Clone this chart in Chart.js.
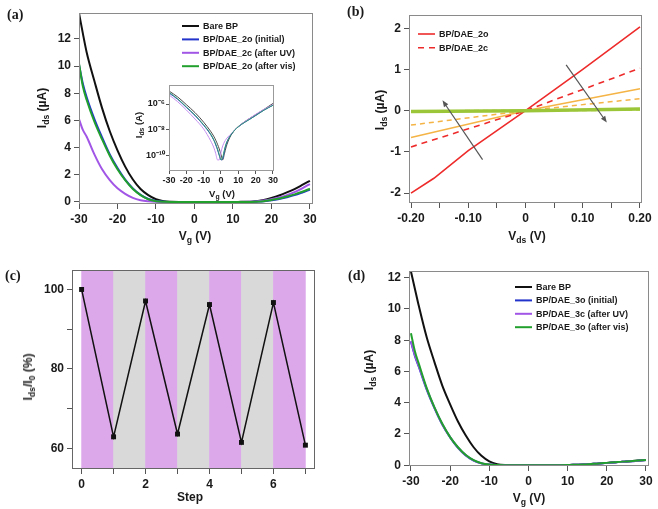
<!DOCTYPE html>
<html>
<head>
<meta charset="utf-8">
<title>BP/DAE transistor figure</title>
<script src="https://cdn.jsdelivr.net/npm/chart.js@4.4.1/dist/chart.umd.min.js"></script>
<style>
  body { margin: 0; background: #fff; }
  #fig { position: relative; width: 658px; height: 509px; overflow: hidden; background: #fff;
         font-family: "Liberation Sans", Arial, sans-serif; color: #1a1a1a; }
  #fig canvas { position: absolute; }
  .t { position: absolute; font-weight: bold; font-size: 12px; white-space: nowrap; transform: translate(-50%, -50%); }
  .t.v { transform: translate(-50%, -50%) rotate(-90deg); }
  .t.s { font-size: 9.5px; }
  .t sub { font-size: 0.72em; vertical-align: -0.3em; line-height: 0; }
  .pl { position: absolute; font-family: "Liberation Serif", "Times New Roman", serif; font-weight: bold; font-size: 14px; }
</style>
</head>
<body>
<div id="fig">
  <canvas id="cA" width="330" height="248" style="left:0px;top:0px"></canvas>
  <canvas id="cIn" width="158" height="120" style="left:125px;top:72px"></canvas>
  <canvas id="cB" width="328" height="248" style="left:330px;top:0px"></canvas>
  <canvas id="cC" width="330" height="259" style="left:0px;top:250px"></canvas>
  <canvas id="cD" width="328" height="259" style="left:330px;top:250px"></canvas>

  <div class="pl" style="left:7px;top:7px">(a)</div>
  <div class="pl" style="left:347px;top:4px">(b)</div>
  <div class="pl" style="left:5px;top:268px">(c)</div>
  <div class="pl" style="left:348px;top:268px">(d)</div>

  <div class="t v" style="left:42px;top:108px">I<sub>ds</sub> (µA)</div>
  <div class="t" style="left:195px;top:236px">V<sub>g</sub> (V)</div>
  <div class="t v s" style="left:138px;top:125px">I<sub>ds</sub> (A)</div>
  <div class="t s" style="left:222px;top:193px">V<sub>g</sub> (V)</div>
  <div class="t v" style="left:380px;top:110px">I<sub>ds</sub> (µA)</div>
  <div class="t" style="left:527px;top:236px">V<sub>ds</sub> (V)</div>
  <div class="t v" style="left:28px;top:377px">I<sub>ds</sub>/I<sub>0</sub> (%)</div>
  <div class="t" style="left:190px;top:497px">Step</div>
  <div class="t v" style="left:369px;top:370px">I<sub>ds</sub> (µA)</div>
  <div class="t" style="left:529px;top:498px">V<sub>g</sub> (V)</div>
</div>

<script>
// (a) transfer curves, Vg (V) vs Ids (µA)
const vgA = [-30, -29, -28, -26, -24, -22, -20, -18, -16, -14, -12, -10, -8, -6, -4, -2, 0, 2, 4, 6, 8, 10, 12, 14, 16, 18, 20, 22, 24, 26, 28, 30];
const bareA = [13.9, 12.4, 11.0, 8.9, 6.9, 5.2, 3.8, 2.6, 1.65, 0.95, 0.5, 0.2, 0.05, 0.01, 0, 0, 0, 0, 0, 0, 0, 0, 0.01, 0.02, 0.05, 0.15, 0.3, 0.48, 0.7, 0.95, 1.25, 1.56];
const blueA = [10.1, 8.7, 7.7, 6.1, 4.75, 3.5, 2.5, 1.65, 1.0, 0.52, 0.22, 0.07, 0.02, 0, 0, 0, 0, 0, 0, 0, 0, 0, 0, 0, 0.02, 0.05, 0.13, 0.22, 0.35, 0.5, 0.7, 0.92];
const purpleA = [6.1, 5.3, 4.8, 3.5, 2.4, 1.6, 1.0, 0.6, 0.3, 0.13, 0.05, 0.01, 0, 0, 0, 0, 0, 0, 0, 0, 0, 0, 0, 0.01, 0.03, 0.1, 0.2, 0.33, 0.5, 0.72, 1.0, 1.32];
const greenA = [10.2, 8.5, 7.5, 5.9, 4.6, 3.4, 2.4, 1.6, 0.95, 0.5, 0.2, 0.06, 0.01, 0, 0, 0, 0, 0, 0, 0, 0, 0, 0, 0, 0.02, 0.06, 0.15, 0.25, 0.4, 0.56, 0.75, 0.97];
const labelsA = ['Bare BP', 'BP/DAE_2o (initial)', 'BP/DAE_2c (after UV)', 'BP/DAE_2o (after vis)'];

// (a) inset, log Ids (A)
const vgIn = [-30, -25, -20, -15, -10, -6, -4, -3, -2, -1, 0, 1, 2, 3, 5, 8, 12, 16, 20, 25, 30];
const bareIn = [1e-5, 3.5e-6, 9e-7, 2.2e-7, 4e-8, 8e-9, 3e-9, 1.6e-9, 8e-10, 3.5e-10, 1.3e-10, 5e-11, 1.5e-10, 5e-10, 2.5e-9, 1e-8, 3e-8, 7e-8, 1.5e-7, 4e-7, 1.1e-6];
const blueIn = [7e-6, 2.3e-6, 5.5e-7, 1.3e-7, 2.3e-8, 4.5e-9, 1.5e-9, 7e-10, 3e-10, 1.1e-10, 5e-11, 6e-11, 2.5e-10, 8e-10, 3e-9, 1e-8, 2.8e-8, 6e-8, 1.3e-7, 3.5e-7, 8e-7];
const purpleIn = [5e-6, 1.5e-6, 3.5e-7, 7e-8, 1.2e-8, 1.5e-9, 4e-10, 1.5e-10, 5e-11, 5e-11, 2e-10, 6e-10, 1.2e-9, 2e-9, 4e-9, 1e-8, 3e-8, 7e-8, 1.6e-7, 4e-7, 9e-7];
const greenIn = [8e-6, 2.5e-6, 6e-7, 1.4e-7, 2.5e-8, 5e-9, 1.6e-9, 8e-10, 3.5e-10, 1.3e-10, 5e-11, 8e-11, 3e-10, 9e-10, 3e-9, 1e-8, 2.8e-8, 6e-8, 1.3e-7, 3.5e-7, 8e-7];
const inTicks = [1e-10, 1e-8, 1e-6];
const inTickLabels = ['10\u207B\u00B9\u2070', '10\u207B\u2078', '10\u207B\u2076'];

// (b) output curves, Vds (V) vs Ids (µA)
const vdsB = [-0.2, -0.16, -0.1, 0, 0.1, 0.2];
const red2oB = [-2.0, -1.64, -0.97, 0, 1.0, 2.03];
const vdsEnds = [-0.2, 0, 0.2];
const red2cB = [-0.88, 0, 1.03];
const orangeSolidB = [-0.65, 0, 0.53];
const orangeDashB = [-0.35, 0, 0.29];
const greenSolidB = [-0.02, 0, 0.04];
const greenDashB = [-0.01, 0, 0.02];
const arrowsB = [
  { from: [-0.075, -1.19], to: [-0.145, 0.25] },
  { from: [0.071, 1.11], to: [0.142, -0.29] }
];

// (c) switching cycles
const stepC = [0, 1, 2, 3, 4, 5, 6, 7];
const ratioC = [100, 62.9, 97.1, 63.6, 96.2, 61.5, 96.7, 60.8];
const bandMidC = [0.5, 1.5, 2.5, 3.5, 4.5, 5.5, 6.5];
const bandLightC = ['UV', 'vis', 'UV', 'vis', 'UV', 'vis', 'UV'];
const C_MIN = 54.8, C_MAX = 104.9;

// (d) transfer curves, DAE_3
const vgD = vgA;
const bareD = [12.4, 11.3, 10.2, 8.2, 6.6, 5.1, 3.9, 2.8, 1.9, 1.15, 0.6, 0.25, 0.07, 0.01, 0, 0, 0, 0, 0, 0, 0, 0.01, 0.03, 0.05, 0.08, 0.11, 0.15, 0.19, 0.23, 0.26, 0.3, 0.34];
const blueD = [7.9, 7.0, 6.3, 4.85, 3.65, 2.6, 1.78, 1.12, 0.63, 0.3, 0.12, 0.04, 0.01, 0, 0, 0, 0, 0, 0, 0, 0, 0.01, 0.03, 0.05, 0.08, 0.11, 0.15, 0.18, 0.22, 0.25, 0.29, 0.33];
const purpleD = [7.95, 7.05, 6.35, 4.9, 3.68, 2.62, 1.79, 1.13, 0.64, 0.31, 0.12, 0.04, 0.01, 0, 0, 0, 0, 0, 0, 0, 0, 0.01, 0.03, 0.05, 0.08, 0.11, 0.15, 0.18, 0.22, 0.25, 0.29, 0.33];
const greenD = [8.45, 7.3, 6.5, 4.95, 3.7, 2.65, 1.8, 1.15, 0.65, 0.32, 0.13, 0.04, 0.01, 0, 0, 0, 0, 0, 0, 0, 0, 0.01, 0.03, 0.05, 0.08, 0.11, 0.15, 0.19, 0.23, 0.26, 0.3, 0.34];
const labelsD = ['Bare BP', 'BP/DAE_3o (initial)', 'BP/DAE_3c (after UV)', 'BP/DAE_3o (after vis)'];

const FONT_FAMILY = '"Liberation Sans", Arial, sans-serif';
const TICK_FONT = { family: FONT_FAMILY, size: 12, weight: 'bold' };
const SMALL_FONT = { family: FONT_FAMILY, size: 9, weight: 'bold' };

/** box round the plot area */
const framePlugin = {
  id: 'frame',
  afterDatasetsDraw(chart, args, opts) {
    const a = chart.chartArea, ctx = chart.ctx;
    ctx.save();
    ctx.strokeStyle = opts.color || '#888';
    ctx.lineWidth = 1;
    ctx.strokeRect(Math.round(a.left) + 0.5, Math.round(a.top) + 0.5,
                   Math.round(a.right - a.left) - 1, Math.round(a.bottom - a.top) - 1);
    ctx.restore();
  }
};

/** line-sample legend placed inside the plot */
const legendPlugin = {
  id: 'boxLegend',
  afterDatasetsDraw(chart, args, opts) {
    if (!opts || !opts.items) return;
    const ctx = chart.ctx;
    ctx.save();
    ctx.font = 'bold 9px ' + FONT_FAMILY;
    ctx.textBaseline = 'middle';
    opts.items.forEach((idx, i) => {
      const ds = chart.data.datasets[idx];
      const y = opts.y + i * opts.gap;
      ctx.strokeStyle = ds.borderColor;
      ctx.lineWidth = ds.borderWidth;
      ctx.setLineDash(ds.borderDash || []);
      ctx.beginPath();
      ctx.moveTo(opts.x, y);
      ctx.lineTo(opts.x + opts.len, y);
      ctx.stroke();
      ctx.setLineDash([]);
      ctx.fillStyle = '#1a1a1a';
      ctx.fillText(ds.label, opts.x + opts.len + 4, y + 0.5);
    });
    ctx.restore();
  }
};

/** gray arrows given in data coordinates */
const arrowPlugin = {
  id: 'arrows',
  afterDatasetsDraw(chart, args, opts) {
    if (!opts || !opts.list) return;
    const xs = chart.scales.x, ys = chart.scales.y, ctx = chart.ctx;
    opts.list.forEach(ar => {
      const x1 = xs.getPixelForValue(ar.from[0]), y1 = ys.getPixelForValue(ar.from[1]);
      const x2 = xs.getPixelForValue(ar.to[0]), y2 = ys.getPixelForValue(ar.to[1]);
      const ang = Math.atan2(y2 - y1, x2 - x1);
      ctx.save();
      ctx.strokeStyle = ctx.fillStyle = '#555';
      ctx.lineWidth = 1.2;
      ctx.beginPath();
      ctx.moveTo(x1, y1);
      ctx.lineTo(x2 - 5 * Math.cos(ang), y2 - 5 * Math.sin(ang));
      ctx.stroke();
      ctx.beginPath();
      ctx.moveTo(x2, y2);
      ctx.lineTo(x2 - 7 * Math.cos(ang - 0.38), y2 - 7 * Math.sin(ang - 0.38));
      ctx.lineTo(x2 - 7 * Math.cos(ang + 0.38), y2 - 7 * Math.sin(ang + 0.38));
      ctx.closePath();
      ctx.fill();
      ctx.restore();
    });
  }
};

function linAxis(pos, min, max, step, size, fmt, small) {
  return {
    type: 'linear', position: pos, min: min, max: max, offset: false,
    afterFit: s => { if (pos === 'left') s.width = size; else s.height = size; },
    grid: { drawOnChartArea: false, drawTicks: true, tickLength: small ? 3 : 5, color: '#555', offset: false },
    border: { display: false },
    ticks: {
      stepSize: step, includeBounds: false, autoSkip: false, maxRotation: 0, padding: small ? 1 : 3,
      color: '#1a1a1a', font: small ? SMALL_FONT : TICK_FONT, callback: fmt || (v => v)
    }
  };
}

function curve(label, xs, ys, color, width, order, dash, smooth) {
  return {
    type: 'line', label: label,
    data: xs.map((x, i) => ({ x: x, y: ys[i] })),
    borderColor: color, backgroundColor: color, borderWidth: width,
    borderDash: dash || [], order: order, pointRadius: 0, fill: false,
    cubicInterpolationMode: smooth ? 'monotone' : 'default', tension: 0
  };
}

function options(pad, scales, plugins) {
  return {
    responsive: false, animation: false, events: [],
    layout: { padding: pad },
    scales: scales,
    plugins: Object.assign({ legend: { display: false }, tooltip: { enabled: false } }, plugins)
  };
}

// ---- (a)
new Chart(document.getElementById('cA'), {
  type: 'line',
  data: { datasets: [
    curve(labelsA[0], vgA, bareA, '#111111', 2, 4, null, true),
    curve(labelsA[1], vgA, blueA, '#2233cc', 2, 3, null, true),
    curve(labelsA[2], vgA, purpleA, '#a256e6', 2, 2, null, true),
    curve(labelsA[3], vgA, greenA, '#22a02e', 2, 1, null, true)
  ] },
  options: options({ left: 0, top: 13, right: 17, bottom: 0 }, {
    x: linAxis('bottom', -30, 30.8, 10, 44),
    y: linAxis('left', -0.15, 13.9, 2, 79)
  }, {
    frame: { color: '#8a8a8a' },
    boxLegend: { x: 182, y: 26, gap: 13.4, len: 17, items: [0, 1, 2, 3] }
  }),
  plugins: [framePlugin, legendPlugin]
});

// ---- (a) inset
new Chart(document.getElementById('cIn'), {
  type: 'line',
  data: { datasets: [
    curve(labelsA[0], vgIn, bareIn, '#4a4a4a', 1, 4, null, true),
    curve(labelsA[1], vgIn, blueIn, '#3040b8', 1, 3, null, true),
    curve(labelsA[2], vgIn, purpleIn, '#c48ef0', 1, 2, null, true),
    curve(labelsA[3], vgIn, greenIn, '#2c9a78', 1, 1, null, true)
  ] },
  options: options({ left: 0, top: 13, right: 9, bottom: 0 }, {
    x: linAxis('bottom', -30, 30.6, 10, 21, null, true),
    y: {
      type: 'logarithmic', position: 'left', min: 7e-12, max: 2.9e-5,
      afterFit: s => { s.width = 44; },
      afterBuildTicks: s => { s.ticks = inTicks.map(v => ({ value: v })); },
      grid: { drawOnChartArea: false, drawTicks: true, tickLength: 3, color: '#555' },
      border: { display: false },
      ticks: { autoSkip: false, padding: 1, color: '#1a1a1a', font: SMALL_FONT, callback: (v, i) => inTickLabels[i] }
    }
  }, { frame: { color: '#9a9a9a' } }),
  plugins: [framePlugin]
});

// ---- (b)
const fmtB = v => {
  const r = Math.round(v * 100);
  if (r % 10 !== 0) return '';
  return r === 0 ? '0' : (r / 100).toFixed(2);
};
new Chart(document.getElementById('cB'), {
  type: 'line',
  data: { datasets: [
    curve('BP/DAE_2o (vis)', vdsEnds, greenSolidB, '#9cc63a', 3.5, 0),
    curve('BP/DAE_2c (vis)', vdsEnds, greenDashB, '#c6dc56', 2, 1, [5, 4]),
    curve('BP/DAE_2o', vdsB, red2oB, '#ee2b2b', 1.6, 2),
    curve('BP/DAE_2c', vdsEnds, red2cB, '#ee2b2b', 1.6, 3, [6, 5]),
    curve('BP/DAE_2o (UV)', vdsEnds, orangeSolidB, '#f5b446', 1.5, 4),
    curve('BP/DAE_2c (UV)', vdsEnds, orangeDashB, '#f5b446', 1.5, 5, [5, 4])
  ] },
  options: options({ left: 0, top: 15, right: 16, bottom: 0 }, {
    x: linAxis('bottom', -0.2035, 0.2035, 0.05, 45, fmtB),
    y: linAxis('left', -2.24, 2.32, 1, 79)
  }, {
    frame: { color: '#8a8a8a' },
    boxLegend: { x: 88, y: 34, gap: 13.7, len: 17, items: [2, 3] },
    arrows: { list: arrowsB }
  }),
  plugins: [framePlugin, arrowPlugin, legendPlugin]
});

// ---- (c)
const bandColor = { UV: '#dca8ea', vis: '#d9d9d9' };
new Chart(document.getElementById('cC'), {
  type: 'line',
  data: { datasets: [
    {
      type: 'bar', label: 'light',
      data: bandMidC.map(x => ({ x: x, y: [C_MIN, C_MAX] })),
      backgroundColor: bandLightC.map(k => bandColor[k]),
      borderWidth: 0, barPercentage: 1, categoryPercentage: 1, order: 5
    },
    {
      type: 'line', label: 'Ids/I0',
      data: stepC.map((x, i) => ({ x: x, y: ratioC[i] })),
      borderColor: '#111', backgroundColor: '#111', borderWidth: 1.5,
      pointStyle: 'rect', pointRadius: 3.5, pointBorderWidth: 0, order: 1, tension: 0
    }
  ] },
  options: options({ left: 0, top: 20, right: 15, bottom: 0 }, {
    x: linAxis('bottom', -0.3, 7.3, 1, 40, v => (v % 2 === 0 ? v : '')),
    y: linAxis('left', C_MIN, C_MAX, 10, 72, v => (Math.round(v) % 20 === 0 ? Math.round(v) : ''))
  }, { frame: { color: '#666' } }),
  plugins: [framePlugin]
});

// ---- (d)
new Chart(document.getElementById('cD'), {
  type: 'line',
  data: { datasets: [
    curve(labelsD[0], vgD, bareD, '#111111', 2, 4, null, true),
    curve(labelsD[1], vgD, blueD, '#2233cc', 2, 3, null, true),
    curve(labelsD[2], vgD, purpleD, '#a256e6', 2, 2, null, true),
    curve(labelsD[3], vgD, greenD, '#22a02e', 2, 1, null, true)
  ] },
  options: options({ left: 0, top: 21, right: 9, bottom: 0 }, {
    x: linAxis('bottom', -30.5, 30.77, 10, 43),
    y: linAxis('left', -0.05, 12.43, 2, 79)
  }, {
    frame: { color: '#8a8a8a' },
    boxLegend: { x: 185, y: 37, gap: 13.4, len: 17, items: [0, 1, 2, 3] }
  }),
  plugins: [framePlugin, legendPlugin]
});
</script>
</body>
</html>
